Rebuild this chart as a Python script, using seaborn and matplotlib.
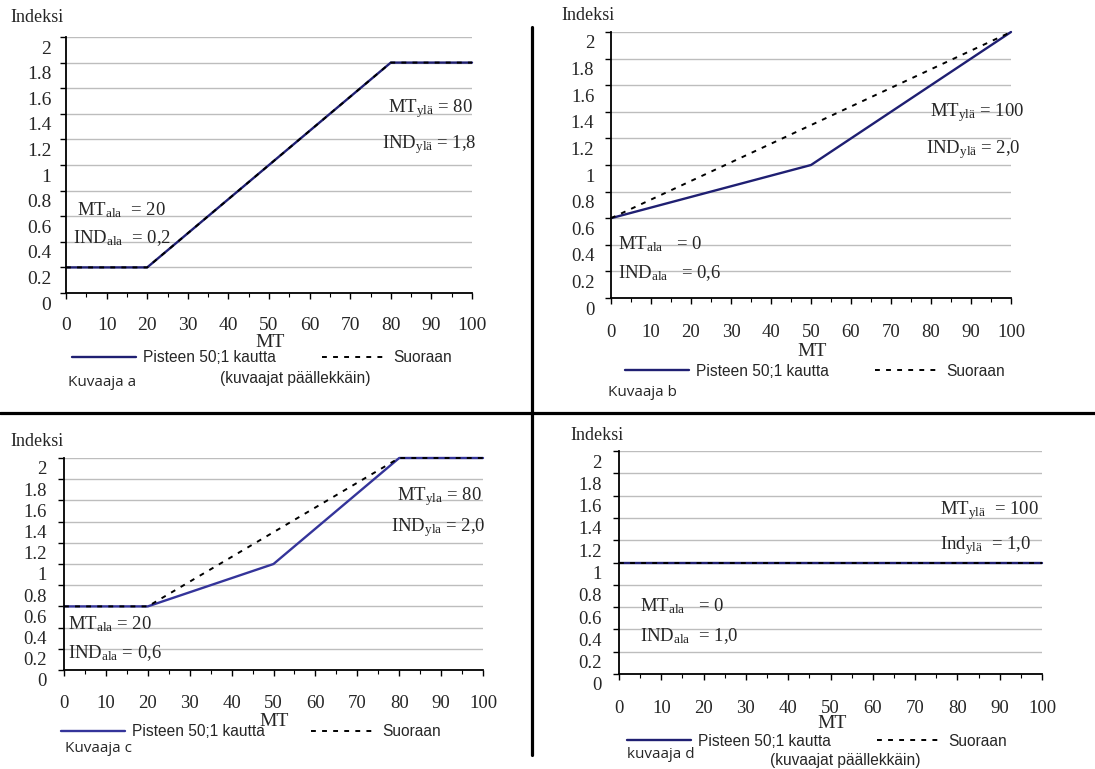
import numpy as np
import matplotlib
matplotlib.use("Agg")
import matplotlib.pyplot as plt
import seaborn as sns
from matplotlib.lines import Line2D
from matplotlib.ticker import FixedLocator, MultipleLocator
from matplotlib.transforms import ScaledTranslation

# data (MT -> Indeksi)
mt_a_solid = [0, 20, 80, 100]
ind_a_solid = [0.2, 0.2, 1.8, 1.8]
mt_a_dash = [0, 20, 80, 100]
ind_a_dash = [0.2, 0.2, 1.8, 1.8]

mt_b_solid = [0, 50, 100]
ind_b_solid = [0.6, 1.0, 2.0]
mt_b_dash = [0, 100]
ind_b_dash = [0.6, 2.0]

mt_c_solid = [0, 20, 50, 80, 100]
ind_c_solid = [0.6, 0.6, 1.0, 2.0, 2.0]
mt_c_dash = [0, 20, 80, 100]
ind_c_dash = [0.6, 0.6, 2.0, 2.0]

mt_d_solid = [0, 100]
ind_d_solid = [1.0, 1.0]
mt_d_dash = [0, 100]
ind_d_dash = [1.0, 1.0]

y_ticks = [0, 0.2, 0.4, 0.6, 0.8, 1.0, 1.2, 1.4, 1.6, 1.8, 2.0]
y_labels = ["0", "0.2", "0.4", "0.6", "0.8", "1", "1.2", "1.4", "1.6", "1.8", "2"]
x_ticks = [0, 10, 20, 30, 40, 50, 60, 70, 80, 90, 100]

solid_label = "Pisteen 50;1 kautta"
dash_label = "Suoraan"

sns.set_theme(style="white")
plt.rcParams["font.family"] = ["Liberation Serif", "DejaVu Serif"]
plt.rcParams["mathtext.fontset"] = "custom"
plt.rcParams["mathtext.rm"] = "Liberation Serif"
plt.rcParams["mathtext.it"] = "Liberation Serif:italic"
plt.rcParams["mathtext.bf"] = "Liberation Serif:bold"

W, H = 1095, 769
fig = plt.figure(figsize=(W / 100, H / 100), dpi=100)
fig.patch.set_facecolor("white")

NAVY = "#1f1f72"


def fx(px):
    return px / W


def fy(py):
    return 1 - py / H


def draw_panel(box, xs, ys, xd, yd, fs, xpad, ypad, solid_color=NAVY):
    left, top, right, bottom = box
    ax = fig.add_axes([fx(left), fy(bottom), fx(right - left), (bottom - top) / H])
    sns.lineplot(x=xs, y=ys, ax=ax, color=solid_color, linewidth=1.7,
                 label=solid_label, clip_on=False, legend=False)
    sns.lineplot(x=xd, y=yd, ax=ax, color="black", linewidth=1.4,
                 dashes=False, label=dash_label, clip_on=False, legend=False)
    ax.lines[-1].set_dashes((2.5, 3.2))
    ax.set_xlim(0, 100)
    ax.set_ylim(0, 2)
    ax.yaxis.set_major_locator(FixedLocator(y_ticks))
    ax.set_yticklabels(y_labels)
    ax.xaxis.set_major_locator(FixedLocator(x_ticks))
    ax.xaxis.set_minor_locator(MultipleLocator(5))
    ax.grid(axis="y", color="#bdbdbd", linewidth=1.0)
    ax.grid(axis="x", visible=False)
    ax.set_axisbelow(True)
    for s in ["top", "right"]:
        ax.spines[s].set_visible(False)
    for s in ["left", "bottom"]:
        ax.spines[s].set_color("black")
        ax.spines[s].set_linewidth(1.3)
    ax.tick_params(axis="y", direction="out", length=4, width=1, color="black",
                   labelsize=fs, pad=ypad, left=True)
    ax.tick_params(axis="x", which="major", direction="out", length=4, width=1,
                   color="black", labelsize=fs, pad=xpad, bottom=True)
    ax.tick_params(axis="x", which="minor", direction="out", length=3, width=0.8,
                   color="black", bottom=True)
    shift = ScaledTranslation(0, -0.10, fig.dpi_scale_trans)
    for lab in ax.get_yticklabels():
        lab.set_transform(lab.get_transform() + shift)
    ax.set_ylabel("")
    return ax


def add_legend(ax, x0, yc):
    ax.legend(handles=ax.lines[:2], labels=[solid_label, dash_label], ncol=2,
              loc="center left", bbox_to_anchor=(fx(x0), fy(yc)),
              bbox_transform=fig.transFigure, frameon=False, borderpad=0,
              borderaxespad=0, handlelength=4.1, handletextpad=0.45,
              columnspacing=3.0, prop={"family": "Liberation Sans", "size": 11.2})


def xlabel(ax, box, xc, yc, fs):
    left, top, right, bottom = box
    ax.set_xlabel("MT", fontsize=fs)
    ax.xaxis.label.set_va("center")
    ax.xaxis.set_label_coords((xc - left) / (right - left), (bottom - yc) / (bottom - top))


def note(x, y, s, size=13.5):
    fig.text(fx(x), fy(y), s, fontsize=size, ha="left", va="baseline")


# panel a
box_a = (66, 37, 472, 293)
ax_a = draw_panel(box_a, mt_a_solid, ind_a_solid, mt_a_dash, ind_a_dash, 14, 13, 6.5)
xlabel(ax_a, box_a, 270, 342, 14)
add_legend(ax_a, 72, 358)
fig.text(fx(10), fy(18), "Indeksi", fontsize=13, va="center")
fig.text(fx(295), fy(378), "(kuvaajat päällekkäin)", fontsize=11.2,
         family="Liberation Sans", ha="center", va="center")
fig.text(fx(68), fy(383), "Kuvaaja a", fontsize=11, family="Open Sans", va="center")
note(77, 215, r"MT$_{\mathrm{ala}}$  = 20")
note(73, 243, r"IND$_{\mathrm{ala}}$  = 0,2")
note(388, 112, r"MT$_{\mathrm{ylä}}$ = 80")
note(382, 148, r"IND$_{\mathrm{ylä}}$ = 1,8")

# panel b
box_b = (611, 32, 1011, 298)
ax_b = draw_panel(box_b, mt_b_solid, ind_b_solid, mt_b_dash, ind_b_dash, 13.5, 15, 8)
xlabel(ax_b, box_b, 812, 351, 14)
add_legend(ax_b, 625, 371)
fig.text(fx(561), fy(15), "Indeksi", fontsize=13, va="center")
fig.text(fx(608), fy(393), "Kuvaaja b", fontsize=11, family="Open Sans", va="center")
note(618, 249, r"MT$_{\mathrm{ala}}$   = 0")
note(618, 278, r"IND$_{\mathrm{ala}}$   = 0,6")
note(930, 116, r"MT$_{\mathrm{ylä}}$ = 100")
note(926, 153, r"IND$_{\mathrm{ylä}}$ = 2,0")

# panel c
box_c = (64, 458, 483, 670)
ax_c = draw_panel(box_c, mt_c_solid, ind_c_solid, mt_c_dash, ind_c_dash, 13.5, 14, 8.5,
                  solid_color="#34349a")
xlabel(ax_c, box_c, 274, 721, 14)
add_legend(ax_c, 61, 732)
fig.text(fx(10), fy(441), "Indeksi", fontsize=13, va="center")
fig.text(fx(65), fy(748), "Kuvaaja c", fontsize=11, family="Open Sans", va="center")
note(68, 629, r"MT$_{\mathrm{ala}}$ = 20")
note(68, 658, r"IND$_{\mathrm{ala}}$ = 0,6")
note(397, 500, r"MT$_{\mathrm{yla}}$ = 80")
note(391, 531, r"IND$_{\mathrm{yla}}$ = 2,0")

# panel d
box_d = (619, 451, 1042, 674)
ax_d = draw_panel(box_d, mt_d_solid, ind_d_solid, mt_d_dash, ind_d_dash, 13.5, 15, 8.5)
xlabel(ax_d, box_d, 832, 724, 14)
add_legend(ax_d, 627, 741)
fig.text(fx(570), fy(436), "Indeksi", fontsize=13, va="center")
fig.text(fx(845), fy(760), "(kuvaajat päällekkäin)", fontsize=11.2,
         family="Liberation Sans", ha="center", va="center")
fig.text(fx(627), fy(754), "kuvaaja d", fontsize=11, family="Open Sans", va="center")
note(640, 611, r"MT$_{\mathrm{ala}}$   = 0")
note(640, 641, r"IND$_{\mathrm{ala}}$  = 1,0")
note(940, 514, r"MT$_{\mathrm{ylä}}$  = 100")
note(940, 549, r"Ind$_{\mathrm{ylä}}$  = 1,0")

# separators between the four charts
fig.add_artist(Line2D([fx(532), fx(532)], [fy(27), fy(755)], color="black", linewidth=2.3))
fig.add_artist(Line2D([0, 1], [fy(413), fy(413)], color="black", linewidth=2.3))

fig.savefig("out.png", dpi=100, facecolor="white")
